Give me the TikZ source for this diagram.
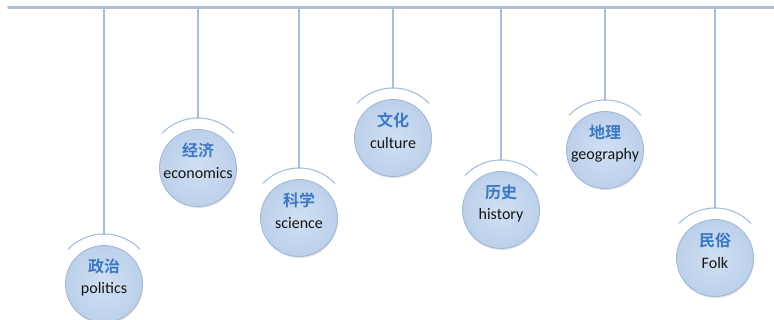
\documentclass[tikz,border=0pt]{standalone}
\usepackage{fontspec}
\setmainfont{Carlito}
\newfontfamily\cjk{Noto Sans CJK SC Bold}
\usetikzlibrary{shadows}
\definecolor{rail}{HTML}{A6BEE0}
\definecolor{ballin}{HTML}{D0E0F3}
\definecolor{ballout}{HTML}{BCD0EA}
\definecolor{ballrim}{HTML}{9DB6DA}
\definecolor{cntext}{HTML}{3A78C6}
\definecolor{entext}{HTML}{151515}
\tikzset{
  ball/.style={circle, minimum size=77pt, inner sep=0pt, draw=ballrim, line width=0.8pt,
    inner color=ballin, outer color=ballout,
    drop shadow={opacity=0.22, shadow xshift=0.6pt, shadow yshift=-1.6pt}},
  cnlab/.style={inner sep=0pt, text=cntext, font=\cjk\fontsize{16}{18}\selectfont},
  enlab/.style={inner sep=0pt, text=entext, font=\fontsize{16}{18}\selectfont},
  stem/.style={rail, line width=1.3pt},
  hook/.style={rail, line width=1.1pt}
}
\begin{document}
\begin{tikzpicture}[x=1pt, y=-1pt, line cap=round]
	\useasboundingbox (0,0) rectangle (774,320);
	% the rail along the top
	\coordinate (L) at (8,7);
	\coordinate (R) at (774,7);
	\draw[black!25, line width=1.6pt] ([yshift=-1pt]L) -- ([yshift=-1pt]R);
	\draw[rail, line width=1.8pt] (L) -- (R);
	% hanging balls: x / y / chinese / english
	\foreach \x/\y/\cn/\en [count=\i] in {104/284/政治/politics, 198/168/经济/economics,
			299/218/科学/science, 393/138/文化/culture, 501/210/历史/history,
			605/150/地理/geography, 715/258/民俗/Folk}{
		\coordinate (t\i) at (\x,7);
		\coordinate (h\i) at (\x,\y-50);
		\draw[stem] (t\i) -- (h\i);
		\draw[hook] ([shift={(-44:50)}]\x,\y) arc (-44:-136:50);
		\node[ball] (b\i) at (\x,\y) {};
		\node[cnlab] (c\i) at ([yshift=18pt]b\i.center) {\cn};
		\node[enlab] (e\i) at ([yshift=-5pt]b\i.center) {\en};
	}
\end{tikzpicture}
\end{document}
